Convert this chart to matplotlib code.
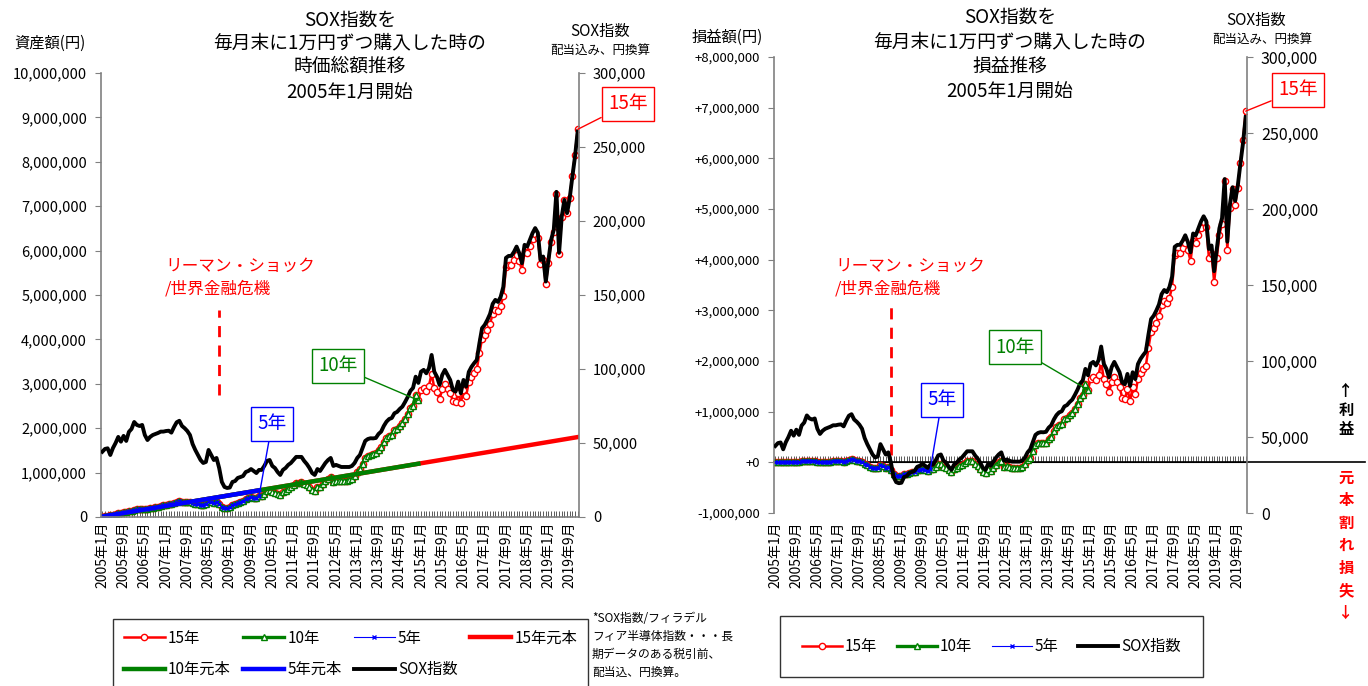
import numpy as np
import matplotlib
matplotlib.use("Agg")
import matplotlib.pyplot as plt
from matplotlib.ticker import FuncFormatter, MultipleLocator

plt.rcParams["font.family"] = ["Noto Sans CJK JP", "DejaVu Sans"]

# ---- data ----
START_YEAR = 2005
months = [f"{START_YEAR + i // 12}年{i % 12 + 1}月" for i in range(180)]
MONTHLY_BUY = 10000  # yen per month

# SOX index (dividends incl., yen based), thousand yen, month end 2005/1 .. 2019/12
sox_k = [
    44.1, 46.0, 46.4, 41.9, 46.6, 50.0, 54.1, 50.9, 54.8, 51.4, 57.5, 59.5,        # 2005
    64.2, 62.2, 61.5, 62.2, 55.4, 52.0, 54.1, 55.4, 56.1, 56.8, 57.7, 57.7,        # 2006
    58.1, 58.3, 57.0, 60.8, 64.0, 65.0, 61.5, 60.0, 58.1, 55.4, 49.3, 45.3,        # 2007
    41.9, 38.5, 36.5, 37.2, 45.3, 41.9, 38.5, 39.9, 33.1, 23.7, 20.3, 19.6,        # 2008
    19.9, 23.7, 24.3, 26.4, 27.0, 27.7, 30.4, 31.1, 32.4, 31.1, 29.7, 31.8,        # 2009
    31.8, 34.5, 37.9, 38.5, 34.5, 33.1, 30.4, 28.4, 31.8, 33.1, 35.2, 36.5,        # 2010
    38.5, 40.6, 40.6, 40.6, 37.9, 35.8, 33.1, 29.7, 28.4, 32.4, 31.1, 33.8,        # 2011
    36.5, 38.5, 39.9, 34.5, 35.2, 34.5, 33.8, 33.8, 33.8, 33.8, 34.5, 36.5,        # 2012
    39.9, 41.9, 46.6, 51.4, 52.7, 53.2, 53.1, 53.4, 56.1, 57.7, 61.5, 64.4,        # 2013
    66.2, 66.9, 70.1, 71.0, 73.0, 74.6, 77.7, 81.1, 85.2, 87.2, 94.8, 90.6,        # 2014
    98.2, 99.4, 97.1, 100.5, 109.5, 98.2, 94.8, 89.2, 96.0, 99.4, 96.0, 92.6,      # 2015
    85.9, 84.7, 91.5, 83.6, 92.6, 88.1, 98.0, 101.4, 103.9, 106.1, 117.4, 127.6,   # 2016
    129.8, 133.2, 137.2, 144.0, 146.7, 145.3, 148.7, 155.5, 175.1, 176.4, 176.4, 179.1,  # 2017
    182.7, 178.3, 171.5, 183.9, 182.7, 187.3, 191.8, 195.2, 192.0, 173.7, 176.0, 159.1,  # 2018
    173.7, 187.3, 194.0, 219.7, 178.5, 203.0, 214.3, 205.3, 215.4, 230.0, 243.6, 260.5,  # 2019
]

plan_labels = ["15年", "10年", "5年"]
plan_months = [180, 120, 60]
plan_colors = ["#FF0000", "#008000", "#0000FF"]

LEHMAN_MONTH = "2008年9月"
lehman_text = "リーマン・ショック\n/世界金融危機"
note_text = "*SOX指数/フィラデル\nフィア半導体指数・・・長\n期データのある税引前、\n配当込、円換算。"

# ---- derived series: value / profit of monthly 10,000 yen purchases ----
sox = np.array(sox_k) * 1000
x = np.arange(len(months))
values, principals = {}, {}
for lab, n in zip(plan_labels, plan_months):
    units = np.cumsum(MONTHLY_BUY / sox[:n])
    values[lab] = units * sox[:n]
    principals[lab] = MONTHLY_BUY * np.arange(1, n + 1)

W, H = 1368, 686
fig = plt.figure(figsize=(W / 100, H / 100), dpi=100)
GRAY = "#808080"
COMB = "#404040"

line_style = {
    "15年": dict(lw=1.8, marker="o", ms=4.5, mfc="white", mew=1.0),
    "10年": dict(lw=2.4, marker="^", ms=4, mfc="white", mew=1.0),
    "5年": dict(lw=0.8, marker="x", ms=3.5, mew=1.0),
}


def px_axes(l, t, r, b):
    return fig.add_axes([l / W, 1 - b / H, (r - l) / W, (b - t) / H])


def ftext(px, py, s, **kw):
    fig.text(px / W, 1 - py / H, s, **kw)


def setup(ax, ax2, labelsize_right):
    ax.spines["top"].set_visible(False)
    ax.spines["right"].set_visible(False)
    for s in ("top", "left", "bottom"):
        ax2.spines[s].set_visible(False)
    for sp in (ax.spines["left"], ax.spines["bottom"], ax2.spines["right"]):
        sp.set_color(GRAY)
        sp.set_linewidth(1.2)
    ax.set_xlim(-0.5, len(months) - 0.5)
    ax.set_xticks(x[::8])
    ax.set_xticklabels([months[i] for i in x[::8]], rotation=90, fontsize=10)
    ax.set_xticks(x, minor=True)
    ax.tick_params(axis="x", which="both", direction="in", length=4, width=0.6,
                   color=COMB, pad=3)
    ax.tick_params(axis="y", direction="out", length=4, color=GRAY)
    ax2.set_ylim(0, 300000)
    ax2.yaxis.set_major_locator(MultipleLocator(50000))
    ax2.yaxis.set_major_formatter(FuncFormatter(lambda v, p: f"{v:,.0f}"))
    ax2.tick_params(axis="y", direction="out", length=4, color=GRAY,
                    labelsize=labelsize_right, pad=6)


def callout(ax2, ax, label, idx, val, center, color):
    ax2.annotate(label, xy=(idx, val), xycoords=ax.transData,
                 xytext=(center[0], H - center[1]), textcoords="figure pixels",
                 ha="center", va="center", fontsize=13.5, color=color,
                 bbox=dict(boxstyle="square,pad=0.35", fc="white", ec=color, lw=1.0),
                 arrowprops=dict(arrowstyle="-", color=color, lw=1.0,
                                 shrinkA=0, shrinkB=0),
                 annotation_clip=False, zorder=10)


lehman_idx = months.index(LEHMAN_MONTH)

# ================= left: market value =================
axL = px_axes(101, 73, 579, 517)
axL2 = axL.twinx()
setup(axL, axL2, 10.5)
handles = {}
for lab, n, c in zip(plan_labels, plan_months, plan_colors):
    handles[lab], = axL.plot(x[:n], values[lab], color=c, mec=c, label=lab,
                             **line_style[lab])
for lab, n, c in zip(plan_labels, plan_months, plan_colors):
    handles[lab + "元本"], = axL.plot(x[:n], principals[lab], color=c, lw=3.2,
                                      label=lab + "元本")
handles["SOX指数"], = axL2.plot(x, sox, color="black", lw=2.8, label="SOX指数")
axL.set_ylim(0, 10_000_000)
axL.yaxis.set_major_locator(MultipleLocator(1_000_000))
axL.yaxis.set_major_formatter(FuncFormatter(lambda v, p: f"{v:,.0f}"))
axL.tick_params(axis="y", labelsize=10.5, pad=6)
axL.axvline(lehman_idx, ymin=0.275, ymax=0.466, color="#FF0000", lw=2,
            dashes=(4, 3))
ftext(165, 278, lehman_text, color="#FF0000", fontsize=12, va="center",
      linespacing=1.45)
for lab, n, c, pos in zip(plan_labels, plan_months, plan_colors,
                          [(628, 104), (338, 366), (272, 424)]):
    callout(axL2, axL, lab, n - 1, values[lab][-1], pos, c)

ftext(350, 20, "SOX指数を", ha="center", va="center", fontsize=13.5)
ftext(350, 43, "毎月末に1万円ずつ購入した時の", ha="center", va="center", fontsize=13.5)
ftext(350, 66, "時価総額推移", ha="center", va="center", fontsize=13.5)
ftext(350, 92, "2005年1月開始", ha="center", va="center", fontsize=13.5)
ftext(50, 43, "資産額(円)", ha="center", va="center", fontsize=11)
ftext(600, 31, "SOX指数", ha="center", va="center", fontsize=11)
ftext(600, 51, "配当込み、円換算", ha="center", va="center", fontsize=9)

order = ["15年", "10年元本", "10年", "5年元本", "5年", "SOX指数", "15年元本"]
legL = fig.legend([handles[k] for k in order], order, ncol=4, loc="upper left",
                  bbox_to_anchor=(113 / W, 1 - 619 / H), borderaxespad=0,
                  frameon=True, fancybox=False, edgecolor="black", fontsize=11,
                  handlelength=2.7, handletextpad=0.2, columnspacing=0.8,
                  labelspacing=0.95, borderpad=0.7)
legL.get_frame().set_linewidth(1.0)
ftext(592, 645, note_text, fontsize=8.5, va="center", linespacing=1.5)

# ================= right: profit / loss =================
axR = px_axes(774, 57, 1247, 513)
axR2 = axR.twinx()
setup(axR, axR2, 11.5)
axR.spines["bottom"].set_visible(False)
axR.tick_params(axis="x", which="both", length=0, pad=6)
for lab, n, c in zip(plan_labels, plan_months, plan_colors):
    axR.plot(x[:n], values[lab] - principals[lab], color=c, mec=c, **line_style[lab])
axR2.plot(x, sox, color="black", lw=2.8)
axR.set_ylim(-1_000_000, 8_000_000)
axR.yaxis.set_major_locator(MultipleLocator(1_000_000))
axR.yaxis.set_major_formatter(FuncFormatter(lambda v, p: f"{v:+,.0f}"))
axR.tick_params(axis="y", labelsize=9.5, pad=6)
zero_frac = 1_000_000 / 9_000_000
axR.axhline(0, xmin=0, xmax=(1365 - 774) / (1247 - 774), color="black", lw=1.2,
            clip_on=False, zorder=1)
comb = axR.secondary_xaxis(zero_frac)
comb.set_xticks(x)
comb.set_xticklabels([])
comb.tick_params(direction="in", length=4, width=0.6, color=COMB)
for sp in comb.spines.values():
    sp.set_color("black")
axR.axvline(lehman_idx, ymin=0.127, ymax=0.456, color="#FF0000", lw=2,
            dashes=(4, 3))
ftext(835, 278, lehman_text, color="#FF0000", fontsize=12, va="center",
      linespacing=1.45)
for lab, n, c, pos in zip(plan_labels, plan_months, plan_colors,
                          [(1298, 90), (1015, 347), (942, 400)]):
    callout(axR2, axR, lab, n - 1, values[lab][-1] - principals[lab][-1], pos, c)

ftext(1010, 17, "SOX指数を", ha="center", va="center", fontsize=13.5)
ftext(1010, 42, "毎月末に1万円ずつ購入した時の", ha="center", va="center", fontsize=13.5)
ftext(1010, 67, "損益推移", ha="center", va="center", fontsize=13.5)
ftext(1010, 91, "2005年1月開始", ha="center", va="center", fontsize=13.5)
ftext(727, 37, "損益額(円)", ha="center", va="center", fontsize=11)
ftext(1256, 20, "SOX指数", ha="center", va="center", fontsize=11)
ftext(1262, 40, "配当込み、円換算", ha="center", va="center", fontsize=9)
ftext(1346, 410, "↑\n利\n益", ha="center", va="center", fontsize=11,
      fontweight="bold", linespacing=1.25)
ftext(1346, 545, "元\n本\n割\nれ\n損\n失\n↓", ha="center", va="center",
      fontsize=11, fontweight="bold", color="#FF0000", linespacing=1.5)

rh = [handles[k] for k in ["15年", "10年", "5年", "SOX指数"]]
legR = fig.legend(rh, ["15年", "10年", "5年", "SOX指数"], ncol=4, loc="upper left",
                  bbox_to_anchor=(780 / W, 1 - 616 / H), borderaxespad=0,
                  frameon=True, fancybox=False, edgecolor="black", fontsize=11,
                  handlelength=2.6, handletextpad=0.2, columnspacing=1.3,
                  borderpad=1.45)
legR.get_frame().set_linewidth(1.0)

fig.savefig("out.png", dpi=100)
